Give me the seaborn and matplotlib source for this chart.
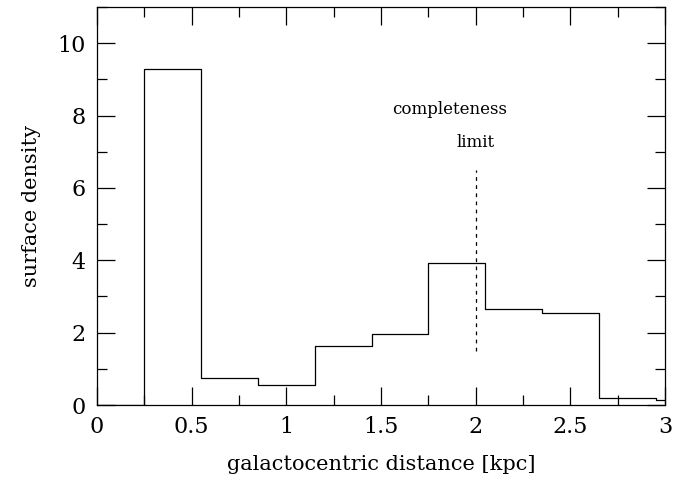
import numpy as np
import pandas as pd
import matplotlib
matplotlib.use("Agg")
import matplotlib.pyplot as plt
import seaborn as sns
from matplotlib.ticker import MultipleLocator

# Data
bin_edges = [0.0, 0.25, 0.55, 0.85, 1.15, 1.45, 1.75, 2.05, 2.35, 2.65, 2.95, 3.0]
bin_centers = [0.125, 0.40, 0.70, 1.00, 1.30, 1.60, 1.90, 2.20, 2.50, 2.80, 2.975]
density = [0.0, 9.3, 0.75, 0.55, 1.62, 1.97, 3.92, 2.65, 2.55, 0.18, 0.15]
limit_x = 2.0
limit_y = [1.5, 6.5]
xticks = [0, 0.5, 1, 1.5, 2, 2.5, 3]
xticklabels = ["0", "0.5", "1", "1.5", "2", "2.5", "3"]
yticks = [0, 2, 4, 6, 8, 10]

df = pd.DataFrame({"r": bin_centers, "w": density})

sns.set_style("ticks")
plt.rcParams["font.family"] = ["DejaVu Serif"]
plt.rcParams["text.color"] = "black"
plt.rcParams["axes.labelcolor"] = "black"
plt.rcParams["xtick.color"] = "black"
plt.rcParams["ytick.color"] = "black"
plt.rcParams["axes.edgecolor"] = "black"

fig = plt.figure(figsize=(6.9, 4.92), dpi=100)
ax = fig.add_axes([97/690, 1-405/492, (665-97)/690, (405-7)/492])

sns.histplot(data=df, x="r", weights="w", bins=bin_edges, element="step",
             fill=False, color="black", linewidth=0.9, ax=ax)

ax.plot([limit_x, limit_x], limit_y, color="black", linewidth=0.9,
        linestyle=(0, (3, 3.5)))
ax.text(1.86, 8.17, "completeness", ha="center", va="center", fontsize=12)
ax.text(2.0, 7.26, "limit", ha="center", va="center", fontsize=12)

ax.set_xlim(0, 3)
ax.set_ylim(0, 11)
ax.set_xticks(xticks)
ax.set_xticklabels(xticklabels)
ax.set_yticks(yticks)
ax.xaxis.set_minor_locator(MultipleLocator(0.25))
ax.yaxis.set_minor_locator(MultipleLocator(1))
ax.tick_params(which="both", direction="in", top=True, right=True,
               labelsize=16, width=0.9, pad=8)
ax.tick_params(which="major", length=13)
ax.tick_params(which="minor", length=7)
for s in ax.spines.values():
    s.set_linewidth(0.9)
    s.set_visible(True)

ax.set_xlabel("galactocentric distance [kpc]", fontsize=15, labelpad=12)
ax.set_ylabel("surface density", fontsize=15, labelpad=12)

fig.savefig("out.png", dpi=100)
